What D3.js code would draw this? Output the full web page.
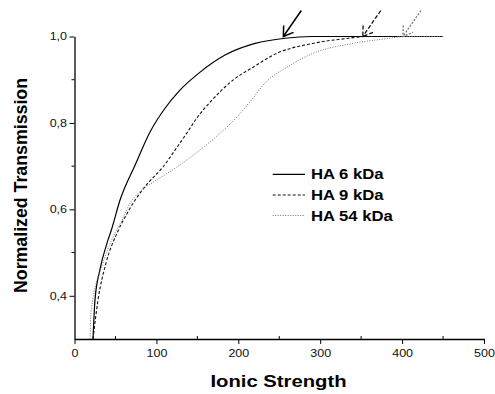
<!DOCTYPE html>
<html>
<head>
<meta charset="utf-8">
<script src="https://cdn.jsdelivr.net/npm/d3@7"></script>
<style>
  body { margin: 0; background: #fff; }
  svg { display: block; font-family: "Liberation Sans", Arial, sans-serif; }
</style>
</head>
<body>
<div id="chart"></div>
<script>
// data
const seriesNames = ['HA 6 kDa', 'HA 9 kDa', 'HA 54 kDa'];

const ha6 = [
  [22.6, 0.30], [25, 0.39], [31, 0.46], [39.7, 0.522], [45.5, 0.555], [55.5, 0.621],
  [73.9, 0.702], [92.2, 0.779], [110.5, 0.834], [128.8, 0.876], [153, 0.917],
  [183.8, 0.957], [220.5, 0.984], [257, 0.996], [290, 1.0], [450, 1.0]
];
const ha9 = [
  [22.6, 0.30], [28.7, 0.39], [38.5, 0.476], [51.9, 0.545], [61.7, 0.582], [73.9, 0.621],
  [89.7, 0.661], [108, 0.698], [122.7, 0.737], [137, 0.776], [150, 0.813],
  [168, 0.853], [193.5, 0.899], [218, 0.929], [247, 0.961], [291, 0.984],
  [335, 0.996], [355, 1.0], [450, 1.0]
];
const ha54 = [
  [19, 0.30], [20, 0.36], [34.8, 0.476], [47, 0.536], [58, 0.575], [67.8, 0.614],
  [82.4, 0.645], [94.6, 0.661], [125, 0.698], [153, 0.737], [177.7, 0.776],
  [198, 0.813], [216, 0.853], [234, 0.895], [259.5, 0.929], [291, 0.961],
  [340, 0.984], [385, 0.996], [402, 1.0], [450, 1.0]
];
// where each curve reaches 1,0 (arrow marks)
const arrowX = [255, 352, 401];

const xTicks = [0, 100, 200, 300, 400, 500];
const xMinor = [50, 150, 250, 350, 450];
const yTicks = [0.4, 0.6, 0.8, 1.0];
const yTickLabels = ['0,4', '0,6', '0,8', '1,0'];
const yMinor = [0.5, 0.7, 0.9];

const width = 495, height = 394;
const stretchK = 1.19;   // the original text is a bit wide

const svg = d3.select('#chart').append('svg')
  .attr('width', width)
  .attr('height', height);

const x = d3.scaleLinear().domain([0, 500]).range([74.5, 484]);
const y = d3.scaleLinear().domain([0.3, 1.0]).range([339, 36.5]);

function stretch(sel, k) {
  sel.each(function () {
    const w = this.getComputedTextLength();
    d3.select(this).attr('textLength', w * k).attr('lengthAdjust', 'spacingAndGlyphs');
  });
}

// X axis
const gx = svg.append('g')
  .attr('transform', 'translate(0,' + y(0.3) + ')')
  .call(d3.axisBottom(x).tickValues(xTicks).tickSize(5).tickPadding(6).tickSizeOuter(0)
    .tickFormat(d3.format('d')));
gx.selectAll('text').style('font-size', '10.5px').attr('fill', '#111');
gx.append('g').selectAll('line')
  .data(xMinor)
  .enter()
  .append('line')
  .attr('x1', d => x(d)).attr('x2', d => x(d))
  .attr('y1', 0).attr('y2', -3)
  .attr('stroke', '#000');

// Y axis
const gy = svg.append('g')
  .attr('transform', 'translate(' + x(0) + ',0)')
  .call(d3.axisLeft(y).tickValues(yTicks).tickSize(5).tickPadding(2.5).tickSizeOuter(0)
    .tickFormat((d, i) => yTickLabels[i]));
gy.selectAll('text').style('font-size', '10.5px').attr('fill', '#111');
gy.append('g').selectAll('line')
  .data(yMinor)
  .enter()
  .append('line')
  .attr('y1', d => y(d)).attr('y2', d => y(d))
  .attr('x1', 0).attr('x2', -3)
  .attr('stroke', '#000');

svg.selectAll('.domain').attr('stroke-width', 1.3);
stretch(gx.selectAll('.tick text'), stretchK);
stretch(gy.selectAll('.tick text'), stretchK);

// axis titles
svg.append('text')
  .attr('x', 278.5)
  .attr('y', 387.3)
  .attr('text-anchor', 'middle')
  .style('font-size', '17px')
  .style('font-weight', 'bold')
  .text('Ionic Strength')
  .call(stretch, stretchK);

svg.append('text')
  .attr('transform', 'translate(26.5,185.5)rotate(-90)')
  .attr('text-anchor', 'middle')
  .style('font-size', '18px')
  .style('font-weight', 'bold')
  .text('Normalized Transmission')
  .attr('textLength', 215)
  .attr('lengthAdjust', 'spacingAndGlyphs');

// line styles per series
const styles = [
  { stroke: '#000', width: 1.2, dash: null },
  { stroke: '#111', width: 1.1, dash: '3,2' },
  { stroke: '#777', width: 1, dash: '1,1.5' }
];

const line = d3.line()
  .x(d => x(d[0]))
  .y(d => y(d[1]))
  .curve(d3.curveMonotoneX);

[ha6, ha9, ha54].forEach((data, i) => {
  svg.append('path')
    .datum(data)
    .attr('fill', 'none')
    .attr('stroke', styles[i].stroke)
    .attr('stroke-width', styles[i].width)
    .attr('stroke-dasharray', styles[i].dash)
    .attr('d', line);
});

// arrows pointing at the plateau onset
arrowX.forEach((ax, i) => {
  const tx = x(ax), ty = y(1.0);
  const dx = 18, dy = -26;
  const ang = Math.atan2(dy, dx);
  const head = 11, spread = 33 * Math.PI / 180;
  const a1 = [tx + head * Math.cos(ang - spread), ty + head * Math.sin(ang - spread)];
  const a2 = [tx + head * Math.cos(ang + spread), ty + head * Math.sin(ang + spread)];
  svg.append('path')
    .attr('d', 'M' + (tx + dx) + ',' + (ty + dy) + 'L' + tx + ',' + ty +
      'M' + a1[0] + ',' + a1[1] + 'L' + tx + ',' + ty + 'L' + a2[0] + ',' + a2[1])
    .attr('fill', 'none')
    .attr('stroke', styles[i].stroke)
    .attr('stroke-width', i === 0 ? 1.5 : 1.3)
    .attr('stroke-dasharray', i === 0 ? null : (i === 1 ? '4,2' : '2,1.5'));
});

// legend
const legend = svg.append('g');
const rowY = [174.3, 195, 215.5];
seriesNames.forEach((name, i) => {
  legend.append('line')
    .attr('x1', 272.7).attr('x2', 305)
    .attr('y1', rowY[i]).attr('y2', rowY[i])
    .attr('stroke', styles[i].stroke)
    .attr('stroke-width', styles[i].width)
    .attr('stroke-dasharray', styles[i].dash);
  legend.append('text')
    .attr('x', 311)
    .attr('y', rowY[i] + 5)
    .style('font-size', '14px')
    .style('font-weight', 'bold')
    .text(name)
    .call(stretch, stretchK);
});
</script>
</body>
</html>
